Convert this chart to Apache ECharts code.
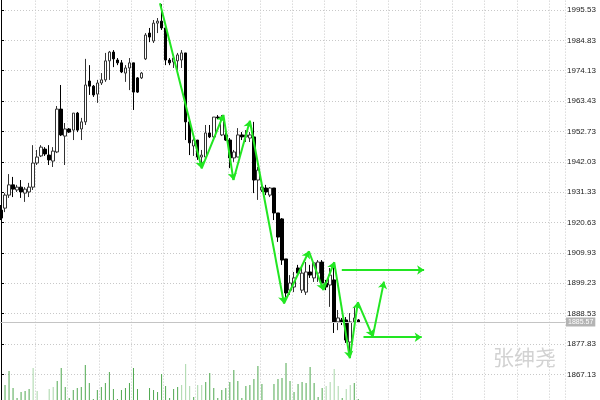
<!DOCTYPE html>
<html>
<head>
    <title>K线 张绅尧</title>
    <meta http-equiv="content-type" content="text/html; charset=utf-8">
    <script src="https://cdn.jsdelivr.net/npm/echarts@6/dist/echarts.min.js"></script>
    <style type="text/css">
        html, body { margin: 0; padding: 0; background: #fff; }
        #main { width: 600px; height: 400px; }
    </style>
</head>
<body>
    <div id="main"></div>
    <script type="text/javascript">
        // price scale labels on the right
        var priceTicks = [1867.13, 1877.83, 1888.53, 1899.23, 1909.93, 1920.63, 1931.33,
                          1942.03, 1952.73, 1963.43, 1974.13, 1984.83, 1995.53];

        // [open, close, low, high]
        var ohlc = [
            [1925.0, 1922.2, 1921.5, 1926.8], [1925.7, 1930.3, 1924.3, 1931.0], [1930.3, 1933.9, 1929.3, 1937.7],
            [1933.9, 1932.4, 1929.6, 1936.7], [1932.1, 1933.1, 1931.4, 1933.9], [1933.1, 1931.4, 1929.3, 1935.6],
            [1931.0, 1932.4, 1927.9, 1933.1], [1931.4, 1933.1, 1929.6, 1934.6], [1933.1, 1941.6, 1932.1, 1947.9],
            [1941.6, 1943.7, 1940.9, 1946.2], [1944.1, 1947.2, 1943.7, 1947.9], [1946.5, 1944.8, 1944.1, 1947.2],
            [1944.4, 1942.7, 1940.9, 1947.9], [1942.3, 1945.8, 1940.2, 1947.2], [1945.5, 1960.6, 1945.1, 1961.7],
            [1960.6, 1951.5, 1951.1, 1969.1], [1951.1, 1953.6, 1940.9, 1955.7], [1953.6, 1952.5, 1952.2, 1953.9],
            [1953.2, 1959.2, 1949.7, 1959.2], [1959.2, 1953.2, 1952.5, 1959.6], [1953.6, 1956.1, 1949.7, 1957.5],
            [1956.1, 1969.1, 1955.0, 1978.3], [1970.5, 1968.7, 1965.6, 1976.1], [1968.7, 1965.6, 1964.9, 1969.1],
            [1965.9, 1969.8, 1962.8, 1970.9], [1969.8, 1970.9, 1969.1, 1973.3], [1970.9, 1977.6, 1970.2, 1980.4],
            [1977.6, 1980.7, 1970.9, 1981.1], [1980.7, 1978.3, 1975.4, 1981.4], [1977.9, 1976.9, 1976.1, 1978.6],
            [1976.9, 1973.7, 1973.3, 1977.9], [1973.3, 1975.1, 1970.2, 1976.1], [1975.1, 1976.9, 1967.3, 1978.6],
            [1976.9, 1966.6, 1960.3, 1976.9], [1971.6, 1966.6, 1966.3, 1971.9], [1971.6, 1973.3, 1971.2, 1973.7],
            [1978.3, 1986.7, 1977.9, 1987.4], [1987.4, 1986.0, 1984.2, 1989.2], [1984.6, 1990.9, 1983.9, 1992.0],
            [1990.9, 1991.6, 1987.4, 1992.7], [1991.6, 1989.2, 1988.5, 1997.6], [1989.2, 1977.9, 1976.1, 1989.2],
            [1977.9, 1976.9, 1976.1, 1978.6], [1977.2, 1978.6, 1975.1, 1979.0], [1977.6, 1979.7, 1974.4, 1980.4],
            [1977.9, 1980.4, 1975.1, 1981.4], [1980.4, 1956.1, 1949.7, 1980.4], [1956.1, 1948.7, 1944.4, 1956.1],
            [1947.6, 1949.7, 1944.1, 1950.4], [1949.7, 1943.7, 1942.7, 1949.7], [1943.7, 1944.4, 1940.2, 1946.2],
            [1943.7, 1952.2, 1943.7, 1955.0], [1952.2, 1950.8, 1950.4, 1955.0], [1950.8, 1957.8, 1950.4, 1957.8],
            [1957.8, 1957.5, 1957.1, 1958.5], [1951.5, 1957.8, 1951.1, 1958.5], [1951.5, 1949.7, 1949.4, 1952.2],
            [1949.7, 1943.4, 1939.8, 1950.4], [1943.4, 1945.5, 1942.0, 1946.2], [1943.7, 1951.5, 1943.7, 1953.9],
            [1951.5, 1950.8, 1949.7, 1952.5], [1950.8, 1951.5, 1949.0, 1953.2], [1950.4, 1951.5, 1949.0, 1952.5],
            [1950.8, 1935.6, 1931.0, 1956.1], [1935.6, 1939.1, 1928.6, 1940.2], [1932.1, 1933.1, 1931.4, 1933.9],
            [1932.8, 1931.4, 1930.3, 1933.9], [1930.3, 1932.8, 1929.6, 1933.1], [1932.8, 1924.0, 1921.5, 1932.8],
            [1924.0, 1915.5, 1913.8, 1924.0], [1921.9, 1907.4, 1905.7, 1922.2], [1907.8, 1895.8, 1894.4, 1907.8],
            [1896.8, 1899.3, 1895.1, 1902.1], [1897.9, 1901.1, 1896.1, 1903.2], [1904.6, 1902.8, 1901.8, 1905.7],
            [1896.8, 1902.8, 1895.8, 1905.0], [1896.1, 1903.2, 1895.1, 1906.7], [1903.2, 1902.1, 1901.1, 1905.7],
            [1901.1, 1906.4, 1899.7, 1906.7], [1902.8, 1906.7, 1899.7, 1907.4], [1906.7, 1899.3, 1897.9, 1907.4],
            [1899.3, 1897.9, 1896.8, 1900.4], [1898.6, 1902.1, 1890.9, 1904.6], [1900.4, 1885.6, 1881.7, 1905.0],
            [1885.6, 1887.0, 1882.7, 1889.8], [1886.3, 1885.6, 1884.5, 1887.0], [1886.3, 1879.2, 1878.2, 1887.3],
            [1878.5, 1885.6, 1873.2, 1888.7], [1885.6, 1887.0, 1883.8, 1890.9], [1886.3, 1885.57, 1885.2, 1886.6]
        ];

        var volumes = [
            0, 15, 29, 12, 2, 8, 9, 11, 32, 9,
            0, 0, 11, 13, 19, 32, 13, 2, 10, 12,
            13, 35, 17, 1, 10, 13, 17, 28, 11, 1,
            10, 12, 17, 32, 11, 0, 0, 12, 10, 8,
            26, 14, 2, 11, 13, 15, 36, 14, 3, 15,
            15, 18, 27, 12, 2, 10, 12, 18, 30, 19,
            2, 14, 15, 21, 34, 16, 0, 0, 16, 21,
            22, 37, 19, 8, 16, 18, 17, 33, 17, 3,
            12, 14, 18, 31, 14, 2, 11, 15, 17, 1
        ];

        // zigzag wave drawn by hand: bar position and price of each turn
        var zigBar   = [39.6, 50.0, 55.4, 57.9, 62.0, 70.5, 76.7, 80.3, 83.0, 86.9, 88.9, 92.6, 95.4];
        var zigPrice = [1997.9, 1939.7, 1958.6, 1935.6, 1956.5, 1892.1, 1910.5, 1896.8, 1906.7, 1872.8, 1892.6, 1880.4, 1899.8];

        // horizontal target arrows
        var targetFrom  = [84.9, 90.3];
        var targetTo    = [105.4, 104.8];
        var targetPrice = [1903.9, 1880.2];

        var slotCount = 141;
        var lightVol = [9, 10, 13, 14, 46, 47, 48, 50, 51, 82, 83, 84, 85, 87, 88];

        var step = +(priceTicks[1] - priceTicks[0]).toFixed(2);
        var yMin = priceTicks[0] - step;
        var yMax = priceTicks[priceTicks.length - 1] + step;

        var categories = [];
        for (var i = 0; i < slotCount; i++) categories.push(String(i + 1));

        var segs = [];
        for (var k = 1; k < zigBar.length; k++) {
            segs.push({ coords: [[zigBar[k - 1], zigPrice[k - 1]], [zigBar[k], zigPrice[k]]] });
        }
        for (var t = 0; t < targetFrom.length; t++) {
            segs.push({ coords: [[targetFrom[t], targetPrice[t]], [targetTo[t], targetPrice[t]]] });
        }

        var lastClose = ohlc[ohlc.length - 1][1];
        var dotted = { color: '#c8c8c8', type: [1, 2], width: 1 };

        var chart = echarts.init(document.getElementById('main'));
        var option = {
            animation: false,
            backgroundColor: '#fff',
            grid: [
                { left: -1, right: 35, top: -20.36, bottom: -4.68, containLabel: false, outerBoundsMode: 'none' },
                { left: -1, right: 35, top: 360, bottom: 0, containLabel: false, outerBoundsMode: 'none' }
            ],
            xAxis: [
                {
                    type: 'category', gridIndex: 0, data: categories, boundaryGap: true,
                    axisLine: { show: false }, axisTick: { show: false }, axisLabel: { show: false },
                    splitLine: {
                        show: true, lineStyle: dotted,
                        interval: function (idx) { return idx > 1 && idx % 8 === 1; }
                    }
                },
                { type: 'value', gridIndex: 0, min: -0.5, max: slotCount - 0.5, show: false },
                { type: 'category', gridIndex: 1, data: categories, boundaryGap: true, show: false }
            ],
            yAxis: [
                {
                    type: 'value', gridIndex: 0, position: 'right', scale: true,
                    min: yMin, max: yMax, interval: step,
                    axisLine: { show: true, lineStyle: { color: '#000', width: 1 } },
                    axisTick: { show: true, length: 3, lineStyle: { color: '#000' } },
                    axisLabel: {
                        color: '#222', fontSize: 8, fontFamily: 'Liberation Sans', margin: 2,
                        formatter: function (v) { return v.toFixed(2); }
                    },
                    splitLine: { show: true, lineStyle: dotted }
                },
                { type: 'value', gridIndex: 1, min: 0, max: 40, show: false }
            ],
            graphic: [
                {
                    type: 'text', left: 493, top: 347, z: 1,
                    style: { text: '张绅尧', fill: '#d2d2d2', font: '21px "Noto Sans CJK SC"' }
                }
            ],
            series: [
                {
                    name: 'volume', type: 'bar', xAxisIndex: 2, yAxisIndex: 1, barWidth: 1,
                    data: volumes.map(function (v, i) {
                        return { value: v, itemStyle: { color: lightVol.indexOf(i + 1) >= 0 ? '#a8d6a8' : '#4fa84f' } };
                    })
                },
                {
                    name: 'price', type: 'candlestick', xAxisIndex: 0, yAxisIndex: 0,
                    barWidth: 3,
                    data: ohlc,
                    itemStyle: {
                        color: '#fff', color0: '#000',
                        borderColor: '#333', borderColor0: '#000', borderWidth: 1
                    },
                    markLine: {
                        silent: true, symbol: ['none', 'none'],
                        lineStyle: { color: '#c4c4c4', type: 'solid', width: 1 },
                        label: {
                            position: 'end', distance: 1, color: '#fff', fontSize: 7,
                            fontFamily: 'Liberation Sans', backgroundColor: '#b4b4b4', padding: [1, 2],
                            formatter: function (p) { return p.value.toFixed(2); }
                        },
                        data: [{ yAxis: lastClose }]
                    }
                },
                {
                    name: 'wave', type: 'lines', coordinateSystem: 'cartesian2d',
                    xAxisIndex: 1, yAxisIndex: 0, z: 5,
                    symbol: ['none', 'arrow'], symbolSize: 7,
                    lineStyle: { color: '#22e622', width: 2, opacity: 1, curveness: 0 },
                    data: segs
                }
            ]
        };
        chart.setOption(option);
    </script>
</body>
</html>
